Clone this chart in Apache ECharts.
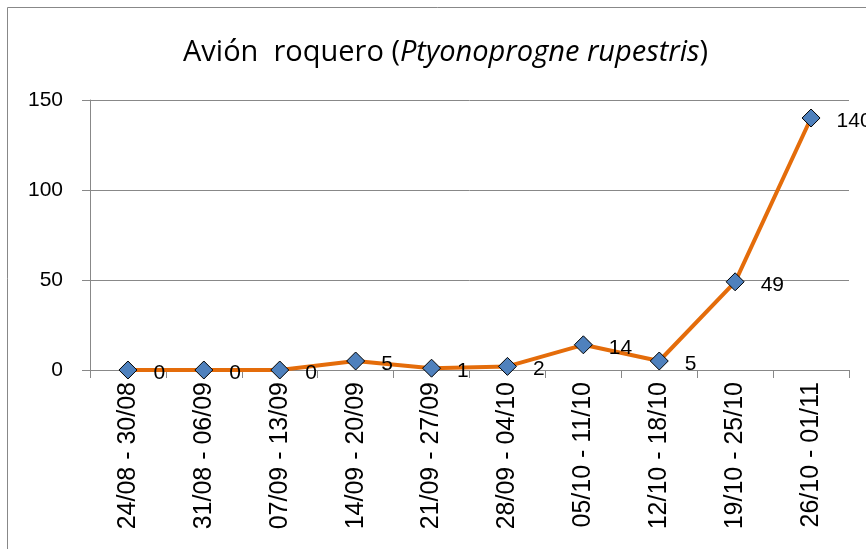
<!DOCTYPE html>
<html><head><meta charset="utf-8">
<script src="https://cdn.jsdelivr.net/npm/echarts@6/dist/echarts.min.js"></script>
<style>html,body{margin:0;padding:0;background:#fff}#c{width:866px;height:549px}</style>
</head><body><div id="c"></div>
<script>
const categories = ["24/08 - 30/08","31/08 - 06/09","07/09 - 13/09","14/09 - 20/09","21/09 - 27/09","28/09 - 04/10","05/10 - 11/10","12/10 - 18/10","19/10 - 25/10","26/10 - 01/11"];
const values = [0,0,0,5,1,2,14,5,49,140];
const yTicks = [0,50,100,150];
const FONT = "'Liberation Sans', Arial, sans-serif";
const TFONT = "'Open Sans', sans-serif";
const chart = echarts.init(document.getElementById('c'), null, {renderer:'canvas'});
chart.setOption({
  animation:false,
  backgroundColor:'#fff',
  graphic:[{type:'rect',shape:{x:7.5,y:7.5,width:900,height:600},style:{fill:'none',stroke:'#888',lineWidth:1},z:-1}],
  title:{
    text:'{n|Avión  roquero (}{i|Ptyonoprogne rupestris}{n|)}',
    left:178, top:33,
    textStyle:{fontWeight:'normal',rich:{
      n:{fontFamily:TFONT,fontSize:29,fontWeight:'normal',color:'#000'},
      i:{fontFamily:TFONT,fontSize:29,fontWeight:'normal',fontStyle:'italic',color:'#000'}}}
  },
  grid:{left:90,right:17,top:100,bottom:179,containLabel:false},
  xAxis:{
    type:'category', data:categories, boundaryGap:true,
    axisLine:{lineStyle:{color:'#888',width:1}},
    axisTick:{show:true,alignWithLabel:false,length:8,lineStyle:{color:'#888'}},
    axisLabel:{rotate:90,margin:12,interval:0,color:'#000',fontFamily:FONT,fontSize:25}
  },
  yAxis:{
    type:'value', min:0, max:150, interval:50,
    axisLine:{show:true,lineStyle:{color:'#888'}},
    axisTick:{show:true,length:8,lineStyle:{color:'#888'}},
    splitLine:{show:true,lineStyle:{color:'#888',width:1}},
    axisLabel:{margin:27,color:'#000',fontFamily:FONT,fontSize:21,
      formatter:v=>yTicks.includes(v)?String(v):''}
  },
  series:[{
    type:'line', data:values,
    lineStyle:{color:'#E46C0A',width:4},
    symbol:'diamond', symbolSize:18,
    itemStyle:{color:'#4F81BD',borderColor:'#000',borderWidth:1},
    label:{show:true,position:'right',distance:16,offset:[0,3],color:'#000',fontFamily:FONT,fontSize:21}
  }]
});
</script></body></html>
